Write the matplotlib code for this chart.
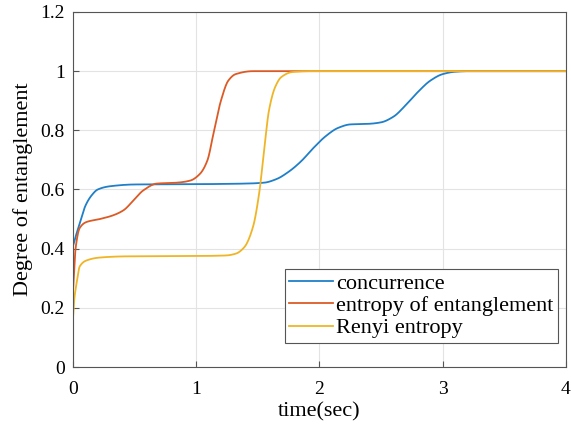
import numpy as np
import matplotlib
matplotlib.use("Agg")
import matplotlib.pyplot as plt

# values
t_conc = [0, 0.02, 0.05, 0.1, 0.15, 0.2, 0.3, 0.5, 1.0, 1.4, 1.55, 1.65, 1.75, 1.85, 1.95,
          2.05, 2.15, 2.25, 2.4, 2.5, 2.6, 2.7, 2.8, 2.9, 3.0, 3.1, 3.2, 4.0]
concurrence = [0.41, 0.44, 0.48, 0.545, 0.58, 0.6, 0.611, 0.617, 0.618, 0.62, 0.623, 0.635,
               0.66, 0.695, 0.74, 0.78, 0.808, 0.82, 0.822, 0.827, 0.846, 0.885, 0.93,
               0.968, 0.99, 0.998, 1.0, 1.0]

t_ent = [0, 0.02, 0.054, 0.108, 0.216, 0.32, 0.41, 0.49, 0.57, 0.68, 0.84, 0.95, 1.03,
         1.09, 1.14, 1.2, 1.26, 1.32, 1.46, 4.0]
entropy = [0.26, 0.4, 0.47, 0.49, 0.5, 0.512, 0.53, 0.563, 0.597, 0.62, 0.623, 0.63, 0.653,
           0.698, 0.79, 0.9, 0.968, 0.99, 1.0, 1.0]

t_renyi = [0, 0.01, 0.027, 0.054, 0.108, 0.216, 0.43, 0.97, 1.24, 1.32, 1.39, 1.46, 1.51,
           1.55, 1.59, 1.64, 1.69, 1.78, 1.95, 4.0]
renyi = [0.17, 0.23, 0.28, 0.34, 0.36, 0.37, 0.374, 0.375, 0.377, 0.383, 0.405, 0.473,
         0.586, 0.73, 0.867, 0.946, 0.98, 0.997, 1.0, 1.0]

plt.rcParams["font.family"] = ["Liberation Serif", "DejaVu Serif"]

fig = plt.figure(figsize=(5.71, 4.28), dpi=100)
ax = fig.add_axes([0.128, 0.1425, 0.863, 0.8295])

def smooth(xs, ys):
    # monotone cubic (PCHIP-like) interpolation between read points, for drawing only
    xf = np.linspace(xs[0], xs[-1], 2000)
    xs = np.asarray(xs, float); ys = np.asarray(ys, float)
    h = np.diff(xs); d = np.diff(ys) / h
    m = np.zeros_like(ys)
    for k in range(1, len(xs) - 1):
        if d[k-1] * d[k] > 0:
            w1 = 2*h[k] + h[k-1]; w2 = h[k] + 2*h[k-1]
            m[k] = (w1 + w2) / (w1/d[k-1] + w2/d[k])
    m[0] = d[0]; m[-1] = d[-1]
    idx = np.clip(np.searchsorted(xs, xf) - 1, 0, len(xs) - 2)
    hh = h[idx]; s = (xf - xs[idx]) / hh
    h00 = 2*s**3 - 3*s**2 + 1; h10 = s**3 - 2*s**2 + s
    h01 = -2*s**3 + 3*s**2; h11 = s**3 - s**2
    yf = h00*ys[idx] + h10*hh*m[idx] + h01*ys[idx+1] + h11*hh*m[idx+1]
    return xf, yf

ax.plot(*smooth(t_conc, concurrence), color="#1f7fc8", lw=1.3, label="concurrence")
ax.plot(*smooth(t_ent, entropy), color="#dc5a25", lw=1.3, label="entropy of entanglement")
ax.plot(*smooth(t_renyi, renyi), color="#efb526", lw=1.3, label="Renyi entropy")

ax.set_xlim(0, 4)
ax.set_ylim(0, 1.2)
ax.set_xticks([0, 1, 2, 3, 4])
ax.set_yticks([0, 0.2, 0.4, 0.6, 0.8, 1, 1.2])
ax.set_yticklabels(["0", "0.2", "0.4", "0.6", "0.8", "1", "1.2"])
ax.grid(True, color="#e3e3e3", lw=0.8)
ax.tick_params(direction="in", length=4, labelsize=14, color="#555555", top=False, right=False)
ax.tick_params(axis="x", pad=10)
ax.tick_params(axis="y", pad=6)
for s in ax.spines.values():
    s.set_color("#555555")
    s.set_linewidth(0.8)
ax.set_xlabel("time(sec)", fontsize=16, labelpad=3)
ax.set_ylabel("Degree of entanglement", fontsize=16, labelpad=5)

leg = ax.legend(loc="lower right", bbox_to_anchor=(0.984, 0.068), borderaxespad=0,
                fontsize=16, fancybox=False, framealpha=1, edgecolor="#555555",
                handlelength=2.0, handletextpad=0.12, labelspacing=0.08, borderpad=0.2)
leg.get_frame().set_linewidth(0.8)

fig.savefig("out.png", dpi=100)
